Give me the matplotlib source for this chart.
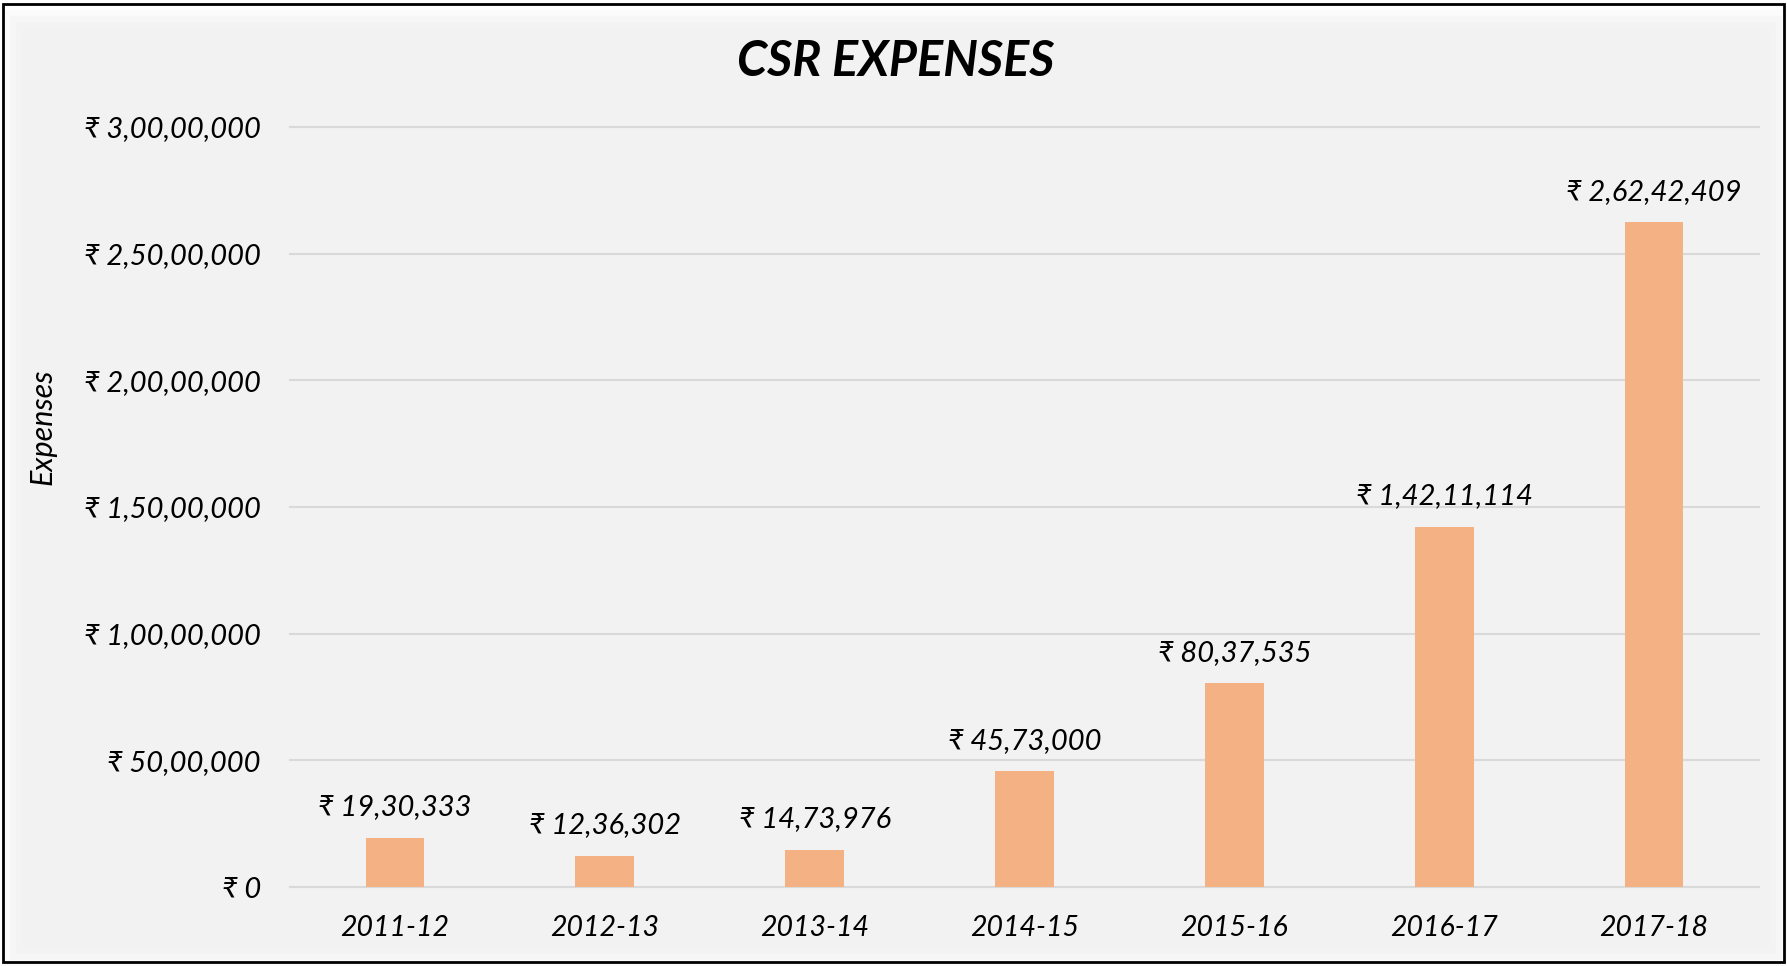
import matplotlib.pyplot as plt
from matplotlib.patches import Rectangle

plt.rcParams['font.family'] = ['Lato', 'DejaVu Sans']

years = ['2011-12', '2012-13', '2013-14', '2014-15', '2015-16', '2016-17', '2017-18']
expenses = [1930333, 1236302, 1473976, 4573000, 8037535, 14211114, 26242409]
y_ticks = [0, 5000000, 10000000, 15000000, 20000000, 25000000, 30000000]


def indian(n):
    # format a number with Indian digit grouping (lakh / crore)
    s = str(int(n))
    if len(s) <= 3:
        return s
    head, tail = s[:-3], s[-3:]
    parts = []
    while len(head) > 2:
        parts.insert(0, head[-2:])
        head = head[:-2]
    if head:
        parts.insert(0, head)
    return ','.join(parts) + ',' + tail


W, H = 1787, 966
fig = plt.figure(figsize=(W / 100, H / 100), dpi=100)
fig.patch.set_facecolor('white')

# soft grey panel with a faint shadow edge
for i, a in enumerate([0.25, 0.5, 0.75, 1.0]):
    d = 6 * (3 - i)
    fig.patches.append(Rectangle(((22 - d) / W, (18 - d) / H), (1748 + 2 * d) / W, (920 + 2 * d) / H,
                                 transform=fig.transFigure, facecolor='#F2F2F2', alpha=a,
                                 edgecolor='none', zorder=-2))
# outer black frame
fig.patches.append(Rectangle((3 / W, 4 / H), (W - 6) / W, (H - 8) / H, transform=fig.transFigure,
                             facecolor='none', edgecolor='black', linewidth=2, zorder=5))

ax = fig.add_axes([290 / W, 1 - 887 / H, (1759 - 290) / W, (887 - 127) / H])
ax.set_facecolor('none')
ax.set_zorder(1)

x = range(len(years))
ax.bar(x, expenses, width=0.28, color='#F4B183', zorder=3)

for xi, v in zip(x, expenses):
    ax.annotate('₹ ' + indian(v), (xi, v), xytext=(0, 22), textcoords='offset points',
                ha='center', va='center', fontsize=21, style='italic', color='black')

ax.set_xlim(-0.5, len(years) - 0.5)
ax.set_ylim(0, 30000000)
ax.set_yticks(y_ticks)
ax.set_yticklabels(['₹ ' + indian(t) for t in y_ticks], fontsize=21, style='italic')
ax.set_xticks(list(x))
ax.set_xticklabels(years, fontsize=20.5, style='italic')
ax.tick_params(axis='both', length=0)
ax.tick_params(axis='y', pad=21)
ax.tick_params(axis='x', pad=20)
for s in ax.spines.values():
    s.set_visible(False)
ax.grid(axis='y', color='#D9D9D9', linewidth=1.5, zorder=1)
ax.set_axisbelow(True)
for gl in ax.get_ygridlines():
    gl.set_clip_on(False)

fig.text(43 / W, 1 - 427 / H, 'Expenses', rotation=90, ha='center', va='center',
         fontsize=22, style='italic')
fig.text(896 / W, 1 - 61 / H, 'CSR EXPENSES', ha='center', va='center',
         fontsize=35, fontweight='bold', style='italic')

fig.savefig('out.png', dpi=100)
